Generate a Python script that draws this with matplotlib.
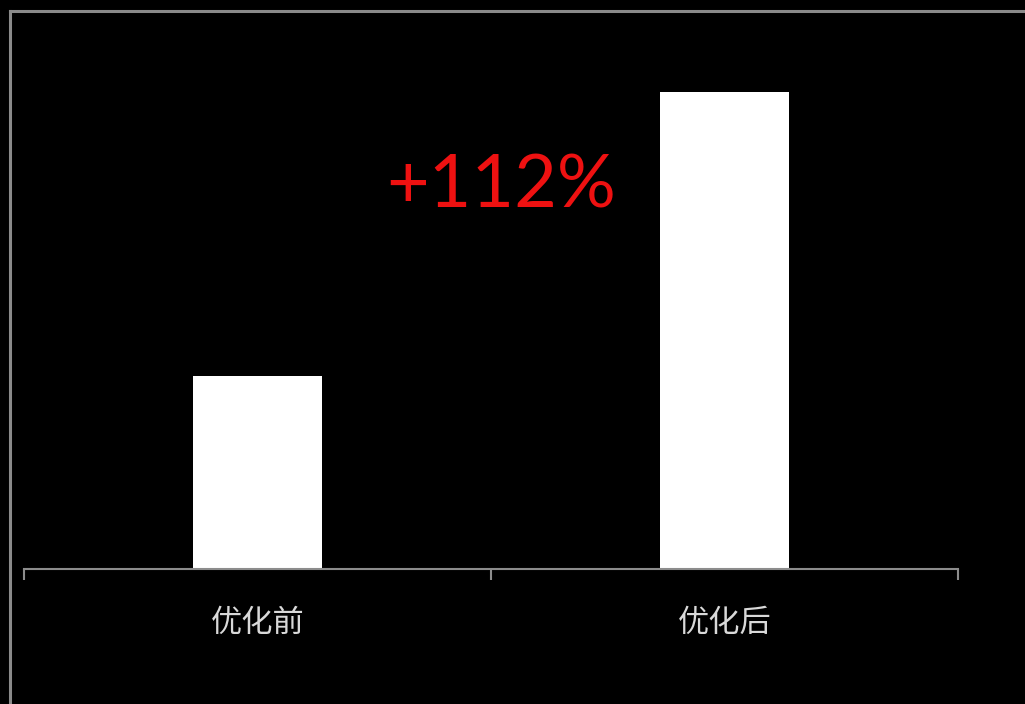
import matplotlib
matplotlib.use("Agg")
import matplotlib.pyplot as plt
from matplotlib.lines import Line2D

# data (relative units, before = 1)
categories = ["优化前", "优化后"]
values = [1.0, 2.47]
note = "+112%"

plt.rcParams['font.family'] = ['Noto Sans CJK SC', 'DejaVu Sans']

W, H = 1025, 704
fig = plt.figure(figsize=(W / 100, H / 100), dpi=100, facecolor="black")

# plot area: x 24..958 px, baseline at y=569 px, top at y=11 px
ax = fig.add_axes([24 / W, (H - 569) / H, (958 - 24) / W, (569 - 11) / H])
ax.set_facecolor("black")

x = range(len(categories))
ax.bar(x, values, width=0.276, color="white")
ax.set_xlim(-0.5, 1.5)
ax.set_ylim(0, 558 / 193)

# axis line with ticks between categories
for side in ["top", "right", "left"]:
    ax.spines[side].set_visible(False)
ax.spines["bottom"].set_color("#8c8c8c")
ax.spines["bottom"].set_linewidth(1.5)
ax.set_yticks([])
ax.set_xticks([-0.5, 0.5, 1.5])
ax.set_xticklabels([])
ax.tick_params(axis="x", direction="out", length=8, width=1.5, color="#8c8c8c")
for i, c in enumerate(categories):
    ax.text(i, -0.28, c, ha="center", va="center", fontsize=22.5,
            color="#d9d9d9")

ax.text(0.522, 1.875, note, ha="center", va="baseline", fontsize=53,
        color="#ee1111", family=["Lato", "DejaVu Sans"])

# outer frame (top and left edges visible)
fig.add_artist(Line2D([10 / W, 1], [1 - 10.5 / H, 1 - 10.5 / H],
                      color="#8a8a8a", lw=2.2, transform=fig.transFigure))
fig.add_artist(Line2D([10 / W, 10 / W], [0, 1 - 10.5 / H],
                      color="#8a8a8a", lw=2.2, transform=fig.transFigure))

fig.savefig("out.png", dpi=100, facecolor="black")
